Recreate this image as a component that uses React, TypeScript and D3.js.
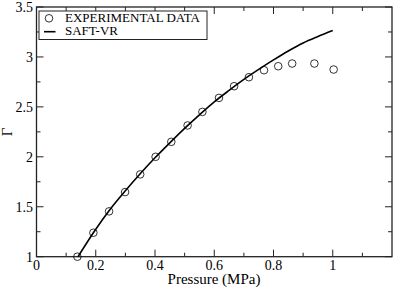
import { useRef, useEffect } from "react"
import * as d3 from "d3"

// experimental data
const expPressure = [0.138, 0.192, 0.245, 0.299, 0.35, 0.402, 0.455, 0.51, 0.56, 0.616, 0.667, 0.717, 0.768, 0.816, 0.863, 0.938, 1.003]
const expGamma = [1.0, 1.24, 1.454, 1.647, 1.824, 2.0, 2.15, 2.314, 2.45, 2.59, 2.707, 2.797, 2.867, 2.907, 2.934, 2.934, 2.874]

// SAFT-VR curve
const saftPressure = [0.14, 0.2, 0.25, 0.3, 0.35, 0.4, 0.45, 0.5, 0.55, 0.6, 0.65, 0.7, 0.75, 0.8, 0.85, 0.9, 0.95, 1.0]
const saftGamma = [1.0, 1.275, 1.48, 1.66, 1.83, 1.99, 2.14, 2.285, 2.42, 2.55, 2.665, 2.775, 2.875, 2.97, 3.06, 3.14, 3.205, 3.265]

const xTicks = [0, 0.2, 0.4, 0.6, 0.8, 1]
const xTickLabels = ["0", "0.2", "0.4", "0.6", "0.8", "1"]
const yTicks = [1, 1.5, 2, 2.5, 3, 3.5]
const yTickLabels = ["1", "1.5", "2", "2.5", "3", "3.5"]
const legendLabels = ["EXPERIMENTAL DATA", "SAFT-VR"]

export default function App() {
  const svgRef = useRef<SVGSVGElement>(null)

  function drawChart() {
    const width = 395
    const height = 289
    const left = 36.5
    const right = 392
    const top = 7
    const bottom = 256.7
    const font = "Liberation Serif"

    const svg = d3.select(svgRef.current).attr("width", width).attr("height", height)
    svg.selectAll("*").remove()
    svg.append("rect").attr("width", width).attr("height", height).attr("fill", "#fff")

    const x = d3.scaleLinear().domain([0, 1.2]).range([left, right])
    const y = d3.scaleLinear().domain([1, 3.5]).range([bottom, top])

    const axes = svg.append("g").attr("stroke", "#222").attr("stroke-width", 1)

    // minor + major ticks, on all four sides, pointing inward
    const xMinor = d3.range(0.1, 1.2, 0.2)
    const yMinor = d3.range(1.25, 3.5, 0.5)
    xTicks.concat(xMinor).forEach((t) => {
      const len = xTicks.includes(t) ? 7 : 4
      axes.append("line").attr("x1", x(t)).attr("x2", x(t)).attr("y1", bottom).attr("y2", bottom - len)
      axes.append("line").attr("x1", x(t)).attr("x2", x(t)).attr("y1", top).attr("y2", top + len)
    })
    yTicks.concat(yMinor).forEach((t) => {
      const len = yTicks.includes(t) ? 7 : 4
      axes.append("line").attr("x1", left).attr("x2", left + len).attr("y1", y(t)).attr("y2", y(t))
      axes.append("line").attr("x1", right).attr("x2", right - len).attr("y1", y(t)).attr("y2", y(t))
    })

    axes
      .append("rect")
      .attr("x", left)
      .attr("y", top)
      .attr("width", right - left)
      .attr("height", bottom - top)
      .attr("fill", "none")
      .attr("stroke-width", 1.3)

    // tick labels
    svg
      .append("g")
      .selectAll("text")
      .data(xTicks)
      .enter()
      .append("text")
      .text((d, i) => xTickLabels[i])
      .attr("x", (d) => x(d))
      .attr("y", 269.5)
      .attr("text-anchor", "middle")
      .attr("font-size", 14)
      .attr("font-family", font)

    svg
      .append("g")
      .selectAll("text")
      .data(yTicks)
      .enter()
      .append("text")
      .text((d, i) => yTickLabels[i])
      .attr("x", 33)
      .attr("y", (d) => y(d) + 4.8)
      .attr("text-anchor", "end")
      .attr("font-size", 14)
      .attr("font-family", font)

    // axis titles
    svg
      .append("text")
      .text("Pressure (MPa)")
      .attr("x", 214)
      .attr("y", 284)
      .attr("text-anchor", "middle")
      .attr("font-size", 15)
      .attr("font-family", font)

    svg
      .append("text")
      .text("Γ")
      .attr("transform", "translate(12, 132) rotate(-90)")
      .attr("text-anchor", "middle")
      .attr("font-size", 15)
      .attr("font-family", font)

    // SAFT-VR line
    const line = d3
      .line<number>()
      .x((d, i) => x(saftPressure[i]))
      .y((d) => y(d))
      .curve(d3.curveMonotoneX)
    svg
      .append("path")
      .attr("d", line(saftGamma))
      .attr("fill", "none")
      .attr("stroke", "#000")
      .attr("stroke-width", 1.6)

    // experimental points
    svg
      .append("g")
      .selectAll("circle")
      .data(expGamma)
      .enter()
      .append("circle")
      .attr("cx", (d, i) => x(expPressure[i]))
      .attr("cy", (d) => y(d))
      .attr("r", 3.8)
      .attr("fill", "none")
      .attr("stroke", "#000")
      .attr("stroke-width", 0.8)

    // Legend
    const legend = svg.append("g")
    legend
      .append("rect")
      .attr("x", 39)
      .attr("y", 11)
      .attr("width", 168)
      .attr("height", 28.5)
      .attr("fill", "#fff")
      .attr("stroke", "#222")
      .attr("stroke-width", 1)
    legend
      .append("circle")
      .attr("cx", 49)
      .attr("cy", 18.3)
      .attr("r", 3.8)
      .attr("fill", "none")
      .attr("stroke", "#000")
      .attr("stroke-width", 0.8)
    legend
      .append("line")
      .attr("x1", 44)
      .attr("x2", 55.5)
      .attr("y1", 31.7)
      .attr("y2", 31.7)
      .attr("stroke", "#000")
      .attr("stroke-width", 1.6)
    legend
      .selectAll("text")
      .data(legendLabels)
      .enter()
      .append("text")
      .text((d) => d)
      .attr("x", 65)
      .attr("y", (d, i) => 22 + i * 13.3)
      .attr("font-size", 13)
      .attr("font-family", font)
  }

  useEffect(() => {
    drawChart()
  }, [svgRef])

  return (
    <div style={{ position: "absolute", left: 0, top: 0 }}>
      <svg ref={svgRef} style={{ display: "block" }}></svg>
    </div>
  )
}
